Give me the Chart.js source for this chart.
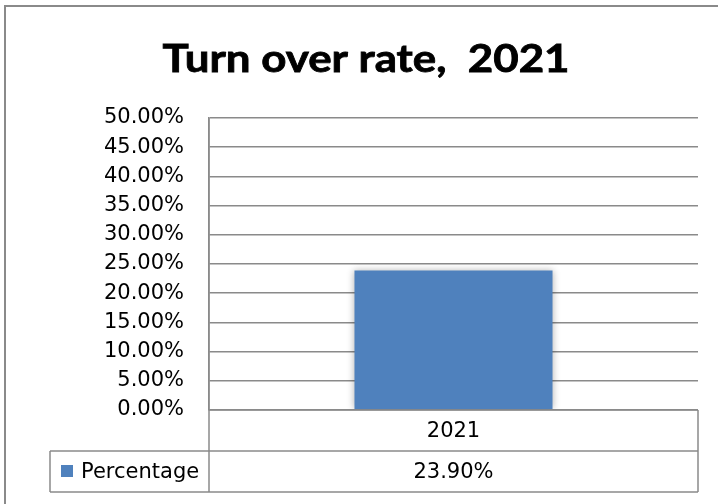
<!DOCTYPE html>
<html>
<head>
<meta charset="utf-8">
<title>Turn over rate, 2021</title>
<script src="https://cdn.jsdelivr.net/npm/chart.js@4.4.1/dist/chart.umd.min.js"></script>
<style>
  html, body { margin: 0; padding: 0; background: #fff; }
  canvas { display: block; }
</style>
</head>
<body>
<canvas id="turnoverChart" width="718" height="504"></canvas>
<script>
const chartTitle = 'Turn over rate,  2021';
const categories = ['2021'];
const seriesName = 'Percentage';
const percentValues = [23.9];
const yMin = 0;
const yMax = 50;
const yStep = 5;

const barBlue = '#4F81BD';
const lineGray = '#8a8a8a';
const labelFont = { family: 'DejaVu Sans', size: 21 };

function fmtPct(v) {
    return v.toFixed(2) + '%';
}

// Outer frame, title, and the data table under the plot
const frameAndTable = {
    id: 'frameAndTable',
    beforeDraw(chart) {
        const ctx = chart.ctx;
        ctx.save();
        ctx.fillStyle = '#fff';
        ctx.fillRect(0, 0, chart.width, chart.height);
        ctx.strokeStyle = lineGray;
        ctx.lineWidth = 2;
        ctx.strokeRect(5, 6, chart.width + 10, chart.height + 10);

        // title: stretched a little so it spans the same width as the heading font
        ctx.fillStyle = '#000';
        ctx.font = 'bold 38px Lato';
        ctx.textAlign = 'center';
        ctx.textBaseline = 'alphabetic';
        const w = ctx.measureText(chartTitle).width;
        const sx = 407 / w;
        ctx.translate(366, 72);
        ctx.scale(sx, 1);
        ctx.lineWidth = 0.8;
        ctx.strokeStyle = '#000';
        ctx.fillText(chartTitle, 0, 0);
        ctx.strokeText(chartTitle, 0, 0);
        ctx.restore();
    },
    afterDraw(chart) {
        const ctx = chart.ctx;
        const area = chart.chartArea;
        const xs = chart.scales.x;
        const rowH = 41;
        const row1Top = area.bottom;
        const row2Top = row1Top + rowH;
        const row2Bottom = row2Top + rowH;
        const legendLeft = 50;

        ctx.save();
        ctx.strokeStyle = lineGray;
        ctx.lineWidth = 1.5;
        ctx.beginPath();
        // axis line carried down through the table
        ctx.moveTo(area.left, area.top);
        ctx.lineTo(area.left, row2Bottom);
        // row borders
        ctx.moveTo(area.left, row1Top);
        ctx.lineTo(area.right, row1Top);
        ctx.moveTo(legendLeft, row2Top);
        ctx.lineTo(area.right, row2Top);
        ctx.moveTo(legendLeft, row2Bottom);
        ctx.lineTo(area.right, row2Bottom);
        ctx.moveTo(legendLeft, row2Top);
        ctx.lineTo(legendLeft, row2Bottom);
        ctx.moveTo(area.right, row1Top);
        ctx.lineTo(area.right, row2Bottom);
        ctx.stroke();

        ctx.fillStyle = '#000';
        ctx.font = labelFont.size + 'px "' + labelFont.family + '"';
        ctx.textBaseline = 'middle';
        ctx.textAlign = 'center';
        categories.forEach((c, i) => {
            const cx = xs.getPixelForValue(i);
            ctx.fillText(c, cx, row1Top + rowH / 2 + 1);
            ctx.fillText(fmtPct(percentValues[i]), cx, row2Top + rowH / 2 + 1);
        });

        // legend key
        ctx.fillStyle = barBlue;
        ctx.fillRect(61, row2Top + 14, 12, 12);
        ctx.fillStyle = '#000';
        ctx.textAlign = 'left';
        ctx.fillText(seriesName, 81, row2Top + rowH / 2 + 1);
        ctx.restore();
    },
    beforeDatasetsDraw(chart) {
        const ctx = chart.ctx;
        ctx.save();
        ctx.shadowColor = 'rgba(0, 0, 0, 0.3)';
        ctx.shadowBlur = 7;
    },
    afterDatasetsDraw(chart) {
        chart.ctx.restore();
    }
};

new Chart(document.getElementById('turnoverChart'), {
    type: 'bar',
    data: {
        labels: categories,
        datasets: [{
            label: seriesName,
            data: percentValues,
            backgroundColor: barBlue,
            borderWidth: 0,
            categoryPercentage: 1,
            barPercentage: 0.405
        }]
    },
    options: {
        responsive: false,
        animation: false,
        layout: {
            padding: { left: 0, right: 20, top: 118, bottom: 94 }
        },
        scales: {
            x: {
                display: false
            },
            y: {
                min: yMin,
                max: yMax,
                afterFit(scale) { scale.width = 209; },
                ticks: {
                    stepSize: yStep,
                    padding: 25,
                    color: '#000',
                    font: labelFont,
                    callback: (v) => fmtPct(v)
                },
                grid: {
                    color: lineGray,
                    lineWidth: 1.5,
                    drawTicks: false
                },
                border: {
                    display: true,
                    color: lineGray,
                    width: 1.5
                }
            }
        },
        plugins: {
            legend: { display: false },
            title: { display: false },
            tooltip: { enabled: false }
        }
    },
    plugins: [frameAndTable]
});
</script>
</body>
</html>
